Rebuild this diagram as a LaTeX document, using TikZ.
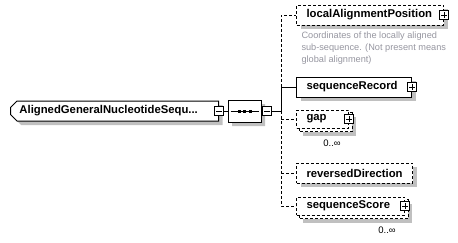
\documentclass[tikz,border=0pt]{standalone}
\usepackage{fontspec}
\setmainfont{Liberation Sans}
\usetikzlibrary{shapes.misc,shadows}
\pgfdeclarelayer{back}
\pgfsetlayers{back,main}
\definecolor{doctext}{RGB}{150,150,160}
\definecolor{shadowgray}{RGB}{192,192,192}
\begin{document}
\begin{tikzpicture}[x=1pt,y=-1pt,line width=1pt,
  shade/.style={drop shadow={shadow xshift=4pt,shadow yshift=-4pt,fill=shadowgray,opacity=1}},
  opt/.style={dash pattern=on 3pt off 2pt},
  elem/.style={draw,fill=white,rectangle,minimum height=20pt,inner xsep=10pt,inner ysep=0pt,
    anchor=west,align=left,font=\fontsize{11.3pt}{13pt}\selectfont\bfseries},
  toggle/.style={draw,fill=white,rectangle,minimum size=9pt,inner sep=0pt,line width=0.8pt},
  plusbox/.style={toggle,path picture={
      \draw[line width=0.8pt] (path picture bounding box.center) ++(-3pt,0pt) -- ++(6pt,0pt)
        (path picture bounding box.center) ++(0pt,-3pt) -- ++(0pt,6pt);}},
  minusbox/.style={toggle,path picture={
      \draw[line width=0.8pt] (path picture bounding box.center) ++(-3pt,0pt) -- ++(6pt,0pt);}},
  mult/.style={inner sep=0pt,font=\fontsize{9.5pt}{11pt}\selectfont},
  doc/.style={inner sep=0pt,anchor=north west,align=left,text=doctext,
    font=\fontsize{9.2pt}{12pt}\selectfont},
  seqdot/.style={fill=black,draw=none,minimum size=3pt,inner sep=0pt,rectangle},
]
\useasboundingbox (0,0) rectangle (458,242);

% root element
\node[elem,shade,chamfered rectangle,chamfered rectangle corners={north west,south west},
  chamfered rectangle xsep=3pt,inner xsep=6pt,text width=190pt] (root) at (10,111)
  {AlignedGeneralNucleotideSequ...};
\node[minusbox] (rootx) at (root.east) {};

% sequence compositor
\node[draw,fill=white,shade,chamfered rectangle,chamfered rectangle xsep=5pt,
  chamfered rectangle ysep=5pt,minimum width=33pt,minimum height=22pt,inner sep=0pt]
  (comp) at (244.5,111) {};
\draw (comp.west) ++(3,0) coordinate (seqa) (comp.east) ++(-3,0) coordinate (seqb);
\draw (seqa) -- (seqb);
\node[seqdot] (dot1) at ([xshift=-5.5pt]comp.center) {};
\node[seqdot] (dot2) at (comp.center) {};
\node[seqdot] (dot3) at ([xshift=5.5pt]comp.center) {};
\node[minusbox] (compx) at ([xshift=5.5pt]comp.east) {};

% child elements
\node[elem,opt,shade,text width=127pt] (lap) at (296,15) {localAlignmentPosition};
\node[plusbox] (lapx) at (lap.east) {};
\node[doc] (lapdoc) at (301,31) {Coordinates of the locally aligned\\sub-sequence. (Not present means\\global alignment)};

\node[elem,shade,text width=95pt] (rec) at (296,87) {sequenceRecord};
\node[plusbox] (recx) at (rec.east) {};

\node[elem,opt,minimum height=18pt,text width=32pt] (gap) at (296,119) {gap};
\node[plusbox] (gapx) at (gap.east) {};
\node[mult] (gapm) at (332,143) {0..∞};

\node[elem,opt,shade,text width=96pt] (rev) at (296,173) {reversedDirection};

\node[elem,opt,minimum height=18pt,text width=88pt] (score) at (296,206) {sequenceScore};
\node[plusbox] (scorex) at (score.east) {};
\node[mult] (scorem) at (387,230) {0..∞};

% stacked frames behind repeatable elements
\begin{pgfonlayer}{back}
  \path[draw,opt,fill=white,shade] ([shift={(3,3)}]gap.north west) rectangle ([shift={(3,3)}]gap.south east);
  \path[draw,opt,fill=white,shade] ([shift={(3,3)}]score.north west) rectangle ([shift={(3,3)}]score.south east);
\end{pgfonlayer}

% connectors
\coordinate (bus) at (281,111);
\draw (rootx.east) -- (comp.west);
\draw (compx.east) -- (bus);
\draw (bus) -- (bus |- rec.west) -- (rec.west);
\draw[opt] (bus |- rec.west) -- (bus |- lap.west) -- (lap.west);
\draw[opt] (bus) -- (bus |- score.west) -- (score.west);
\draw[opt] (bus |- gap.west) -- (gap.west);
\draw[opt] (bus |- rev.west) -- (rev.west);
\end{tikzpicture}
\end{document}
